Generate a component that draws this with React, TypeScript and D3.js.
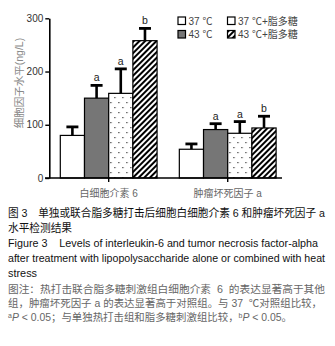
import { useRef, useEffect } from 'react'
import * as d3 from 'd3'

const categories = ['白细胞介素 6', '肿瘤坏死因子 a']
const series = ['37 ℃', '43 ℃', '37 ℃+脂多糖', '43 ℃+脂多糖']
const il6Mean = [80, 150, 159, 258]
const il6Err = [16, 24, 46, 23]
const tnfMean = [54, 91, 84, 94]
const tnfErr = [10, 11, 22, 22]
const il6Sig = ['', 'a', 'a', 'b']
const tnfSig = ['', 'a', 'a', 'b']
const yTicks = [0, 100, 200, 300]

const captionLines = [
  { text: '图 3　单独或联合脂多糖打击后细胞白细胞介素 6 和肿瘤坏死因子 a', len: 317 },
  { text: '水平检测结果', len: 64 },
  { text: 'Figure 3    Levels of interleukin-6 and tumor necrosis factor-alpha', len: 310 },
  { text: 'after treatment with lipopolysaccharide alone or combined with heat', len: 317 },
  { text: 'stress', len: 29 },
]

const FONT = '"Liberation Sans", Arial, "Noto Sans CJK SC", sans-serif'

export default function App() {
  const svgRef = useRef<SVGSVGElement>(null)

  useEffect(() => {
    if (!svgRef.current) return
    const svg = d3.select(svgRef.current)
    svg.selectAll('*').remove()

    const rows = categories.map((c, i) => ({
      cat: c,
      values: series.map((s, j) => ({
        s,
        j,
        mean: i === 0 ? il6Mean[j] : tnfMean[j],
        err: i === 0 ? il6Err[j] : tnfErr[j],
        sig: i === 0 ? il6Sig[j] : tnfSig[j],
      })),
    }))

    const y = d3.scaleLinear().domain([0, 300]).range([178, 18.3])
    const x0 = d3.scaleBand().domain(categories).range([49.3, 287.1]).paddingInner(0.187).paddingOuter(0.0924)
    const x1 = d3.scaleBand().domain(series).range([0, x0.bandwidth()])

    // patterns
    const defs = svg.append('defs')
    const hatch = defs.append('pattern').attr('id', 'hatch').attr('patternUnits', 'userSpaceOnUse')
      .attr('width', 4).attr('height', 4).attr('patternTransform', 'rotate(45)')
    hatch.append('rect').attr('width', 4).attr('height', 4).attr('fill', '#fff')
    hatch.append('rect').attr('x', 0).attr('width', 2).attr('height', 4).attr('fill', '#000')

    const dots = defs.append('pattern').attr('id', 'dots').attr('patternUnits', 'userSpaceOnUse')
      .attr('width', 8).attr('height', 10)
    dots.append('rect').attr('width', 8).attr('height', 10).attr('fill', '#fff')
    dots.append('rect').attr('x', 2).attr('y', 2).attr('width', 1.2).attr('height', 1.2).attr('fill', '#333')
    dots.append('rect').attr('x', 6).attr('y', 7).attr('width', 1.2).attr('height', 1.2).attr('fill', '#333')

    const fills = ['#fff', '#767676', 'url(#dots)', 'url(#hatch)']

    const g = svg.append('g')
    const grp = g.selectAll('g.grp').data(rows).join('g')
      .attr('transform', (d) => `translate(${x0(d.cat)},0)`)

    grp.selectAll('rect').data((d) => d.values).join('rect')
      .attr('x', (d) => x1(d.s)!)
      .attr('y', (d) => y(d.mean))
      .attr('width', x1.bandwidth())
      .attr('height', (d) => y(0) - y(d.mean))
      .attr('fill', (d) => fills[d.j])
      .attr('stroke', '#000')
      .attr('stroke-width', 1.2)

    // error bars
    const eb = grp.selectAll('g.eb').data((d) => d.values).join('g')
    eb.append('line')
      .attr('x1', (d) => x1(d.s)! + x1.bandwidth() / 2)
      .attr('x2', (d) => x1(d.s)! + x1.bandwidth() / 2)
      .attr('y1', (d) => y(d.mean))
      .attr('y2', (d) => y(d.mean + d.err))
      .attr('stroke', '#000').attr('stroke-width', 2.6)
    eb.append('line')
      .attr('x1', (d) => x1(d.s)! + x1.bandwidth() / 2 - 6)
      .attr('x2', (d) => x1(d.s)! + x1.bandwidth() / 2 + 6)
      .attr('y1', (d) => y(d.mean + d.err))
      .attr('y2', (d) => y(d.mean + d.err))
      .attr('stroke', '#000').attr('stroke-width', 2.8)
    eb.append('text')
      .attr('x', (d) => x1(d.s)! + x1.bandwidth() / 2)
      .attr('y', (d) => y(d.mean + d.err) - 4)
      .attr('text-anchor', 'middle')
      .attr('font-size', 10.5)
      .attr('fill', '#222')
      .text((d) => d.sig)

    // y axis
    const yAxis = g.append('g').attr('transform', 'translate(49.3,0)')
      .call(d3.axisLeft(y).tickValues(yTicks).tickSize(4).tickPadding(2).tickSizeOuter(0))
    yAxis.select('.domain').attr('stroke', '#000').attr('stroke-width', 1.6)
    yAxis.selectAll('.tick line').attr('stroke', '#000').attr('stroke-width', 1.4)
    yAxis.selectAll('.tick text').attr('font-size', 10).attr('fill', '#333').attr('font-family', FONT)

    // x axis
    g.append('line').attr('x1', 45).attr('x2', 282).attr('y1', y(0)).attr('y2', y(0))
      .attr('stroke', '#000').attr('stroke-width', 1.6)
    g.selectAll('line.xt').data(categories).join('line')
      .attr('x1', (d) => x0(d)! + x0.bandwidth() / 2)
      .attr('x2', (d) => x0(d)! + x0.bandwidth() / 2)
      .attr('y1', y(0)).attr('y2', y(0) + 4)
      .attr('stroke', '#000').attr('stroke-width', 1.4)
    g.selectAll('text.xl').data(categories).join('text')
      .attr('x', (d) => x0(d)! + x0.bandwidth() / 2)
      .attr('y', 197)
      .attr('text-anchor', 'middle')
      .attr('font-size', 10)
      .attr('fill', '#666')
      .text((d) => d)

    // y label
    g.append('text')
      .attr('transform', 'translate(23,83) rotate(-90)')
      .attr('text-anchor', 'middle')
      .attr('font-size', 10.5)
      .attr('fill', '#888')
      .text('细胞因子水平(ng/L)')

    // legend: column 1 = 37 ℃ / 43 ℃, column 2 = with 脂多糖
    const lg = g.selectAll('g.lg').data(series).join('g')
      .attr('transform', (_, i) => `translate(${i < 2 ? 178 : 227.5},${i % 2 === 0 ? 17 : 30.5})`)
    lg.append('rect').attr('width', 7.5).attr('height', 7.5)
      .attr('fill', (_, i) => (i === 2 ? '#fff' : fills[i]))
      .attr('stroke', '#000').attr('stroke-width', 1.2)
    lg.append('text').attr('x', 10.5).attr('y', 7.5)
      .attr('font-size', 10).attr('fill', '#444')
      .text((d) => d)

    // caption
    const cap = svg.append('g')
    captionLines.forEach((l, i) => {
      cap.append('text')
        .attr('x', 8).attr('y', 217 + i * 15)
        .attr('font-size', 11.5)
        .attr('fill', '#111')
        .attr('textLength', l.len)
        .attr('lengthAdjust', 'spacingAndGlyphs')
        .style('white-space', 'pre')
        .text(l.text)
    })

    const note = svg.append('g').attr('fill', '#666').attr('font-size', 10.5)
    note.append('text').attr('x', 8).attr('y', 293).attr('textLength', 317).attr('lengthAdjust', 'spacingAndGlyphs')
      .style('white-space', 'pre')
      .text('图注：热打击联合脂多糖刺激组白细胞介素  6  的表达显著高于其他')
    note.append('text').attr('x', 8).attr('y', 307).attr('textLength', 314).attr('lengthAdjust', 'spacingAndGlyphs')
      .style('white-space', 'pre')
      .text('组，肿瘤坏死因子 a 的表达显著高于对照组。与 37  ℃对照组比较，')
    const n3 = note.append('text').attr('x', 8).attr('y', 321).attr('textLength', 284).attr('lengthAdjust', 'spacingAndGlyphs')
      .style('white-space', 'pre')
    n3.append('tspan').attr('font-size', 7).attr('baseline-shift', 'super').text('a')
    n3.append('tspan').attr('font-style', 'italic').text('P')
    n3.append('tspan').text(' < 0.05；与单独热打击组和脂多糖刺激组比较，')
    n3.append('tspan').attr('font-size', 7).attr('baseline-shift', 'super').text('b')
    n3.append('tspan').attr('font-style', 'italic').text('P')
    n3.append('tspan').text(' < 0.05。')
  }, [])

  return (
    <div style={{ position: 'fixed', left: 0, top: 0, width: 335, height: 346, background: '#fff' }}>
      <svg ref={svgRef} width={335} height={346} style={{ display: 'block', fontFamily: FONT }} />
    </div>
  )
}
